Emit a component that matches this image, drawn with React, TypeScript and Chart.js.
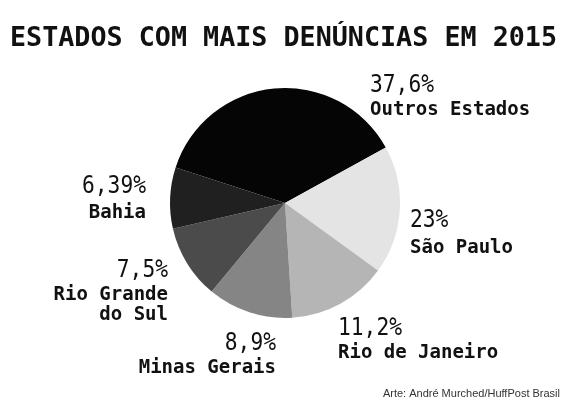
import React, { useEffect, useRef } from "react";
import { Chart, registerables } from "chart.js";

Chart.register(...registerables);

// ---- data ----
const categories = ["Outros Estados", "São Paulo", "Rio de Janeiro", "Minas Gerais", "Rio Grande do Sul", "Bahia"];
// slice shares as drawn in the picture (angles)
const sliceShares = [37, 18, 14, 12, 10.4, 8.6];
// printed percentage labels
const percentLabels = ["37,6%", "23%", "11,2%", "8,9%", "7,5%", "6,39%"];
const nameLines = [["Outros Estados"], ["São Paulo"], ["Rio de Janeiro"], ["Minas Gerais"], ["Rio Grande", "do Sul"], ["Bahia"]];
const sliceColors = ["#050505", "#e4e4e4", "#b5b5b5", "#858585", "#4b4b4b", "#202020"];
const titleText = "ESTADOS COM MAIS DENÚNCIAS EM 2015";
const creditText = "Arte: André Murched/HuffPost Brasil";

// ---- label layout (relative to pie centre) ----
const labelLayout = [
  { dx: 85, dy: -111, align: "left", gaps: [23] },
  { dx: 125, dy: 24, align: "left", gaps: [26] },
  { dx: 53, dy: 132, align: "left", gaps: [23] },
  { dx: -9, dy: 147, align: "right", gaps: [23] },
  { dx: -117, dy: 74, align: "right", gaps: [23, 20] },
  { dx: -139, dy: -10, align: "right", gaps: [25] },
];

function drawScaled(ctx: CanvasRenderingContext2D, text: string, x: number, y: number, font: string, align: string, sx: number) {
  ctx.save();
  ctx.font = font;
  ctx.textBaseline = "alphabetic";
  ctx.textAlign = align as CanvasTextAlign;
  ctx.translate(x, y);
  ctx.scale(sx, 1);
  ctx.fillText(text, 0, 0);
  ctx.restore();
}

const textPlugin = {
  id: "customText",
  afterDraw(chart: any) {
    const ctx: CanvasRenderingContext2D = chart.ctx;
    const meta = chart.getDatasetMeta(0);
    const arc = meta.data[0];
    const cx = arc.x;
    const cy = arc.y;
    ctx.save();
    ctx.fillStyle = "#111";
    // title
    const tFont = "bold 27px 'DejaVu Sans Mono'";
    ctx.font = tFont;
    const tw = ctx.measureText(titleText).width;
    drawScaled(ctx, titleText, 10, 46, tFont, "left", 547 / tw);

    // labels
    labelLayout.forEach((l, i) => {
      const x = cx + l.dx;
      let y = cy + l.dy;
      drawScaled(ctx, percentLabels[i], x, y, "25px 'DejaVu Sans Mono'", l.align, 0.85);
      nameLines[i].forEach((line, j) => {
        y += l.gaps[j];
        drawScaled(ctx, line, x, y, "bold 19px 'DejaVu Sans Mono'", l.align, 1.0);
      });
    });

    // credit
    ctx.fillStyle = "#333";
    drawScaled(ctx, creditText, 560, 397, "11px 'Liberation Sans'", "right", 1);
    ctx.restore();
  },
};

export default function App() {
  const ref = useRef<HTMLCanvasElement | null>(null);
  useEffect(() => {
    document.body.style.margin = "0";
    const chart = new Chart(ref.current as HTMLCanvasElement, {
      type: "pie",
      data: {
        labels: categories,
        datasets: [
          {
            data: sliceShares,
            backgroundColor: sliceColors,
            borderWidth: 0,
          },
        ],
      },
      options: {
        responsive: false,
        animation: false,
        rotation: -72,
        layout: { padding: { top: 88, bottom: 82, left: 170, right: 170 } },
        plugins: {
          legend: { display: false },
          tooltip: { enabled: false },
          title: { display: false },
        },
        events: [],
      },
      plugins: [textPlugin],
    });
    return () => chart.destroy();
  }, []);
  return (
    <div style={{ position: "fixed", left: 0, top: 0, width: 570, height: 400, background: "#fff" }}>
      <canvas ref={ref} width={570} height={400} style={{ width: 570, height: 400 }} />
    </div>
  );
}
